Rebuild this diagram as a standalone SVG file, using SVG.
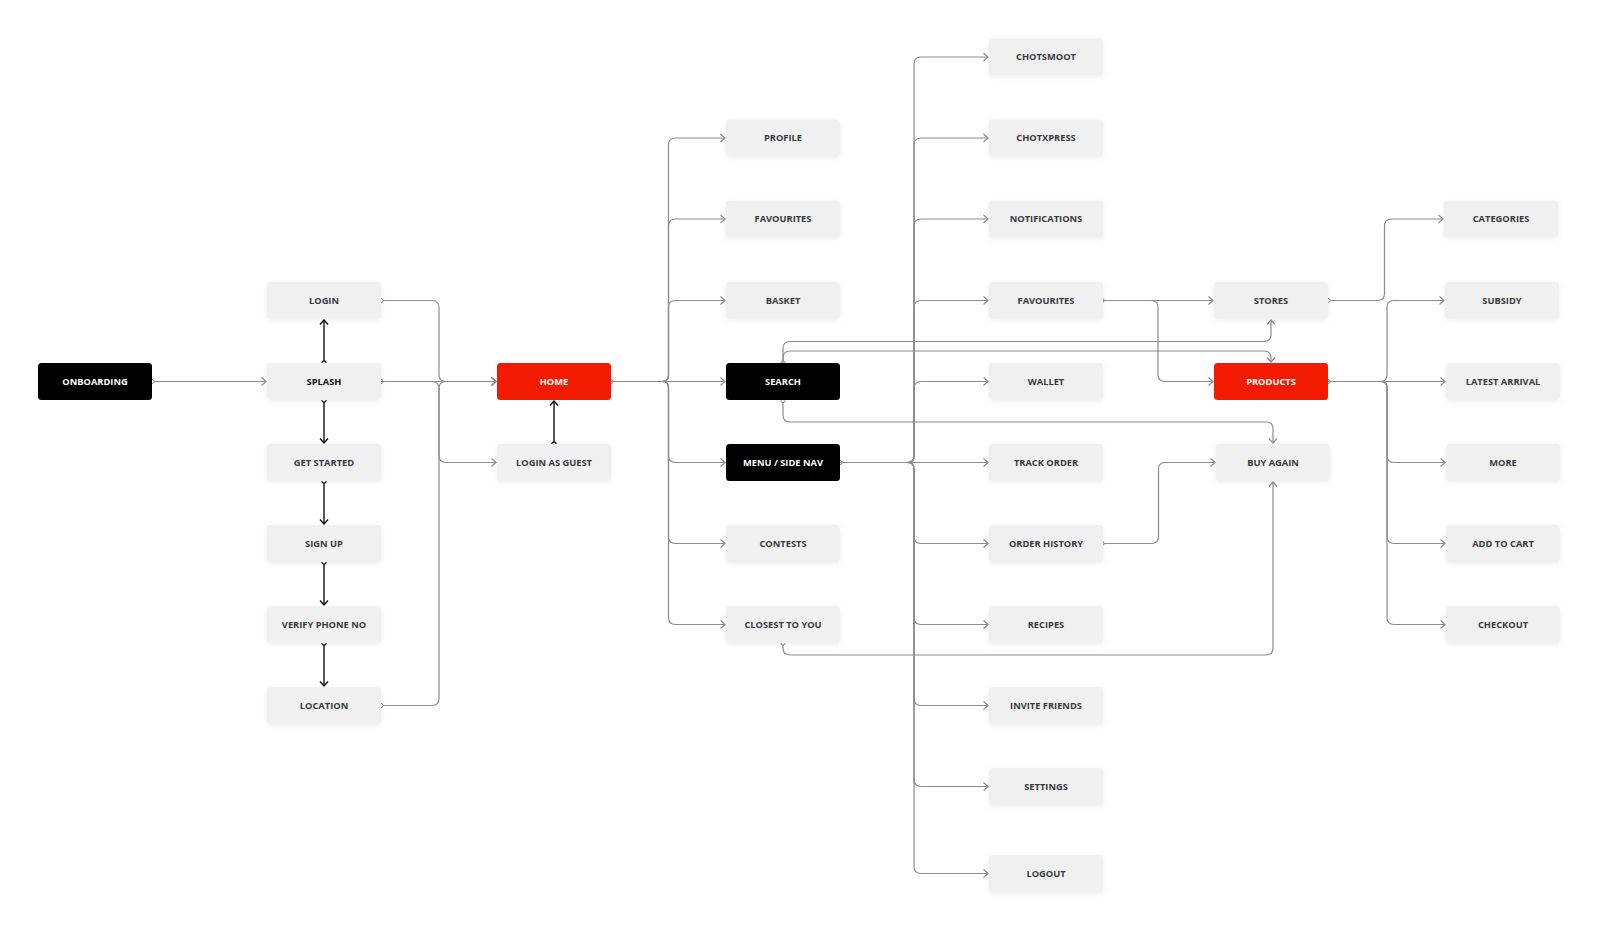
<svg xmlns="http://www.w3.org/2000/svg" width="1598" height="931" viewBox="0 0 1598 931">
<style>
.box{fill:#f0f0f0;filter:url(#sh)}
.blk{fill:#000}
.red{fill:#f21a00}
text{font-family:"Open Sans","Liberation Sans",sans-serif;font-weight:700;font-size:9.3px;text-anchor:middle;fill:#383b43}
.w{fill:#fff}
.c{fill:none;stroke:#8c8c8c;stroke-width:1.2}
.k{fill:none;stroke:#111;stroke-width:1.4}
</style>
<defs>
<filter id="sh" x="-20%" y="-40%" width="140%" height="180%"><feDropShadow dx="0" dy="1.5" stdDeviation="2.5" flood-color="#000" flood-opacity="0.07"/></filter>
<marker id="ag" markerUnits="userSpaceOnUse" markerWidth="10" markerHeight="10" refX="6" refY="5" orient="auto"><path d="M1.5,1 L6,5 L1.5,9" fill="none" stroke="#8c8c8c" stroke-width="1.2"/></marker>
<marker id="ak" markerUnits="userSpaceOnUse" markerWidth="10" markerHeight="10" refX="6" refY="5" orient="auto"><path d="M1.5,1 L6,5 L1.5,9" fill="none" stroke="#111" stroke-width="1.4"/></marker>
<marker id="dg" markerUnits="userSpaceOnUse" markerWidth="8" markerHeight="8" refX="4" refY="4"><circle cx="4" cy="4" r="2.1" fill="#fff" stroke="#8c8c8c" stroke-width="1"/></marker>
<marker id="dk" markerUnits="userSpaceOnUse" markerWidth="8" markerHeight="8" refX="4" refY="4"><circle cx="4" cy="4" r="2.1" fill="#fff" stroke="#111" stroke-width="1.2"/></marker>
</defs>
<rect width="1598" height="931" fill="#fff"/>

<g id="connectors">
<path class="c" marker-start="url(#dg)" marker-end="url(#ag)" d="M152,381.5 H266"/>
<path class="k" marker-start="url(#dk)" marker-end="url(#ak)" d="M324,363 V320"/>
<path class="k" marker-start="url(#dk)" marker-end="url(#ak)" d="M324,400 V443"/>
<path class="k" marker-start="url(#dk)" marker-end="url(#ak)" d="M324,481 V524"/>
<path class="k" marker-start="url(#dk)" marker-end="url(#ak)" d="M324,562 V605"/>
<path class="k" marker-start="url(#dk)" marker-end="url(#ak)" d="M324,643 V686"/>
<path class="k" marker-start="url(#dk)" marker-end="url(#ak)" d="M554,444 V401"/>
<path class="c" marker-start="url(#dg)" marker-end="url(#ag)" d="M381,300.5 H432 Q439,300.5 439,307.5 V374.5 Q439,381.5 446,381.5 H496"/>
<path class="c" marker-start="url(#dg)" marker-end="url(#ag)" d="M381,381.5 H496"/>
<path class="c" d="M381,381.5 H432 Q439,381.5 439,388.5 V455.5 Q439,462.5 446,462.5 H496" marker-end="url(#ag)"/>
<path class="c" marker-start="url(#dg)" marker-end="url(#ag)" d="M381,705.5 H432 Q439,705.5 439,698.5 V388.5 Q439,381.5 446,381.5 H496"/>
<path class="c" marker-start="url(#dg)" marker-end="url(#ag)" d="M611,381.5 H662 Q668.5,381.5 668.5,375 V145 Q668.5,138 675.5,138 H725"/>
<path class="c" marker-end="url(#ag)" d="M662,381.5 Q668.5,381.5 668.5,375 V226 Q668.5,219 675.5,219 H725"/>
<path class="c" marker-end="url(#ag)" d="M662,381.5 Q668.5,381.5 668.5,375 V307.5 Q668.5,300.5 675.5,300.5 H725"/>
<path class="c" marker-end="url(#ag)" d="M611,381.5 H725"/>
<path class="c" marker-end="url(#ag)" d="M662,381.5 Q668.5,381.5 668.5,388 V455.5 Q668.5,462.5 675.5,462.5 H725"/>
<path class="c" marker-end="url(#ag)" d="M662,381.5 Q668.5,381.5 668.5,388 V536.5 Q668.5,543.5 675.5,543.5 H725"/>
<path class="c" marker-end="url(#ag)" d="M662,381.5 Q668.5,381.5 668.5,388 V617.5 Q668.5,624.5 675.5,624.5 H725"/>
<path class="c" marker-start="url(#dg)" marker-end="url(#ag)" d="M840,462.5 H907.5 Q914,462.5 914,456 V64 Q914,57 921,57 H988"/>
<path class="c" marker-end="url(#ag)" d="M907.5,462.5 Q914,462.5 914,456 V145 Q914,138 921,138 H988"/>
<path class="c" marker-end="url(#ag)" d="M907.5,462.5 Q914,462.5 914,456 V226 Q914,219 921,219 H988"/>
<path class="c" marker-end="url(#ag)" d="M907.5,462.5 Q914,462.5 914,456 V307.5 Q914,300.5 921,300.5 H988"/>
<path class="c" marker-end="url(#ag)" d="M907.5,462.5 Q914,462.5 914,456 V388.5 Q914,381.5 921,381.5 H988"/>
<path class="c" marker-end="url(#ag)" d="M840,462.5 H988"/>
<path class="c" marker-end="url(#ag)" d="M907.5,462.5 Q914,462.5 914,469 V536.5 Q914,543.5 921,543.5 H988"/>
<path class="c" marker-end="url(#ag)" d="M907.5,462.5 Q914,462.5 914,469 V617.5 Q914,624.5 921,624.5 H988"/>
<path class="c" marker-end="url(#ag)" d="M907.5,462.5 Q914,462.5 914,469 V698.5 Q914,705.5 921,705.5 H988"/>
<path class="c" marker-end="url(#ag)" d="M907.5,462.5 Q914,462.5 914,469 V779.5 Q914,786.5 921,786.5 H988"/>
<path class="c" marker-end="url(#ag)" d="M907.5,462.5 Q914,462.5 914,469 V866.5 Q914,873.5 921,873.5 H988"/>
<path class="c" marker-start="url(#dg)" marker-end="url(#ag)" d="M783,363 V348.5 Q783,341.5 790,341.5 H1264 Q1271,341.5 1271,334.5 V320"/>
<path class="c" marker-end="url(#ag)" d="M783,363 V358 Q783,351 790,351 H1264 Q1271,351 1271,358 V362"/>
<path class="c" marker-start="url(#dg)" marker-end="url(#ag)" d="M783,400.5 V415 Q783,422 790,422 H1266 Q1273,422 1273,429 V443"/>
<path class="c" marker-start="url(#dg)" marker-end="url(#ag)" d="M783,643 V648 Q783,655 790,655 H1266 Q1273,655 1273,648 V482"/>
<path class="c" marker-start="url(#dg)" marker-end="url(#ag)" d="M1102,300.5 H1213"/>
<path class="c" marker-end="url(#ag)" d="M1102,300.5 H1151 Q1158,300.5 1158,307.5 V374.5 Q1158,381.5 1165,381.5 H1213"/>
<path class="c" marker-start="url(#dg)" marker-end="url(#ag)" d="M1102,543.5 H1151.5 Q1158.5,543.5 1158.5,536.5 V469.5 Q1158.5,462.5 1165.5,462.5 H1215"/>
<path class="c" marker-start="url(#dg)" marker-end="url(#ag)" d="M1328,300.5 H1377.5 Q1384.5,300.5 1384.5,293.5 V226 Q1384.5,219 1391.5,219 H1443"/>
<path class="c" marker-start="url(#dg)" marker-end="url(#ag)" d="M1328,381.5 H1380.5 Q1387,381.5 1387,375 V307.5 Q1387,300.5 1394,300.5 H1444"/>
<path class="c" marker-end="url(#ag)" d="M1328,381.5 H1445"/>
<path class="c" marker-end="url(#ag)" d="M1380.5,381.5 Q1387,381.5 1387,388 V455.5 Q1387,462.5 1394,462.5 H1445"/>
<path class="c" marker-end="url(#ag)" d="M1380.5,381.5 Q1387,381.5 1387,388 V536.5 Q1387,543.5 1394,543.5 H1445"/>
<path class="c" marker-end="url(#ag)" d="M1380.5,381.5 Q1387,381.5 1387,388 V617.5 Q1387,624.5 1394,624.5 H1445"/>
</g>

<g id="n-onboarding"><rect class="blk" x="38" y="363" width="114" height="37" rx="3.5"/><text class="w" x="95" y="384.7">ONBOARDING</text></g>
<g id="n-login"><rect class="box" x="267" y="282" width="114" height="37" rx="3.5"/><text x="324" y="303.7">LOGIN</text></g>
<g id="n-splash"><rect class="box" x="267" y="363" width="114" height="37" rx="3.5"/><text x="324" y="384.7" style="fill:#111">SPLASH</text></g>
<g id="n-getstarted"><rect class="box" x="267" y="444" width="114" height="37" rx="3.5"/><text x="324" y="465.7">GET STARTED</text></g>
<g id="n-signup"><rect class="box" x="267" y="525" width="114" height="37" rx="3.5"/><text x="324" y="546.7">SIGN UP</text></g>
<g id="n-verify"><rect class="box" x="267" y="606" width="114" height="37" rx="3.5"/><text x="324" y="627.7">VERIFY PHONE NO</text></g>
<g id="n-location"><rect class="box" x="267" y="687" width="114" height="37" rx="3.5"/><text x="324" y="708.7">LOCATION</text></g>

<g id="n-home"><rect class="red" x="497" y="363" width="114" height="37" rx="3.5"/><text class="w" x="554" y="384.7">HOME</text></g>
<g id="n-guest"><rect class="box" x="497" y="444" width="114" height="37" rx="3.5"/><text x="554" y="465.7">LOGIN AS GUEST</text></g>

<g id="n-profile"><rect class="box" x="726" y="119.5" width="114" height="37" rx="3.5"/><text x="783" y="141.2">PROFILE</text></g>
<g id="n-favourites1"><rect class="box" x="726" y="200.5" width="114" height="37" rx="3.5"/><text x="783" y="222.2">FAVOURITES</text></g>
<g id="n-basket"><rect class="box" x="726" y="282" width="114" height="37" rx="3.5"/><text x="783" y="303.7">BASKET</text></g>
<g id="n-search"><rect class="blk" x="726" y="363" width="114" height="37" rx="3.5"/><text class="w" x="783" y="384.7">SEARCH</text></g>
<g id="n-menu"><rect class="blk" x="726" y="444" width="114" height="37" rx="3.5"/><text class="w" x="783" y="465.7">MENU / SIDE NAV</text></g>
<g id="n-contests"><rect class="box" x="726" y="525" width="114" height="37" rx="3.5"/><text x="783" y="546.7">CONTESTS</text></g>
<g id="n-closest"><rect class="box" x="726" y="606" width="114" height="37" rx="3.5"/><text x="783" y="627.7">CLOSEST TO YOU</text></g>

<g id="n-chotsmoot"><rect class="box" x="989" y="38.5" width="114" height="37" rx="3.5"/><text x="1046" y="60.2">CHOTSMOOT</text></g>
<g id="n-chotxpress"><rect class="box" x="989" y="119.5" width="114" height="37" rx="3.5"/><text x="1046" y="141.2">CHOTXPRESS</text></g>
<g id="n-notifications"><rect class="box" x="989" y="200.5" width="114" height="37" rx="3.5"/><text x="1046" y="222.2">NOTIFICATIONS</text></g>
<g id="n-favourites2"><rect class="box" x="989" y="282" width="114" height="37" rx="3.5"/><text x="1046" y="303.7">FAVOURITES</text></g>
<g id="n-wallet"><rect class="box" x="989" y="363" width="114" height="37" rx="3.5"/><text x="1046" y="384.7">WALLET</text></g>
<g id="n-trackorder"><rect class="box" x="989" y="444" width="114" height="37" rx="3.5"/><text x="1046" y="465.7">TRACK ORDER</text></g>
<g id="n-orderhistory"><rect class="box" x="989" y="525" width="114" height="37" rx="3.5"/><text x="1046" y="546.7">ORDER HISTORY</text></g>
<g id="n-recipes"><rect class="box" x="989" y="606" width="114" height="37" rx="3.5"/><text x="1046" y="627.7">RECIPES</text></g>
<g id="n-invite"><rect class="box" x="989" y="687" width="114" height="37" rx="3.5"/><text x="1046" y="708.7">INVITE FRIENDS</text></g>
<g id="n-settings"><rect class="box" x="989" y="768" width="114" height="37" rx="3.5"/><text x="1046" y="789.7">SETTINGS</text></g>
<g id="n-logout"><rect class="box" x="989" y="855" width="114" height="37" rx="3.5"/><text x="1046" y="876.7">LOGOUT</text></g>

<g id="n-stores"><rect class="box" x="1214" y="282" width="114" height="37" rx="3.5"/><text x="1271" y="303.7">STORES</text></g>
<g id="n-products"><rect class="red" x="1214" y="363" width="114" height="37" rx="3.5"/><text class="w" x="1271" y="384.7">PRODUCTS</text></g>
<g id="n-buyagain"><rect class="box" x="1216" y="444" width="114" height="37" rx="3.5"/><text x="1273" y="465.7">BUY AGAIN</text></g>

<g id="n-categories"><rect class="box" x="1444" y="200.5" width="114" height="37" rx="3.5"/><text x="1501" y="222.2">CATEGORIES</text></g>
<g id="n-subsidy"><rect class="box" x="1445" y="282" width="114" height="37" rx="3.5"/><text x="1502" y="303.7">SUBSIDY</text></g>
<g id="n-latest"><rect class="box" x="1446" y="363" width="114" height="37" rx="3.5"/><text x="1503" y="384.7">LATEST ARRIVAL</text></g>
<g id="n-more"><rect class="box" x="1446" y="444" width="114" height="37" rx="3.5"/><text x="1503" y="465.7">MORE</text></g>
<g id="n-addtocart"><rect class="box" x="1446" y="525" width="114" height="37" rx="3.5"/><text x="1503" y="546.7">ADD TO CART</text></g>
<g id="n-checkout"><rect class="box" x="1446" y="606" width="114" height="37" rx="3.5"/><text x="1503" y="627.7">CHECKOUT</text></g>
</svg>
